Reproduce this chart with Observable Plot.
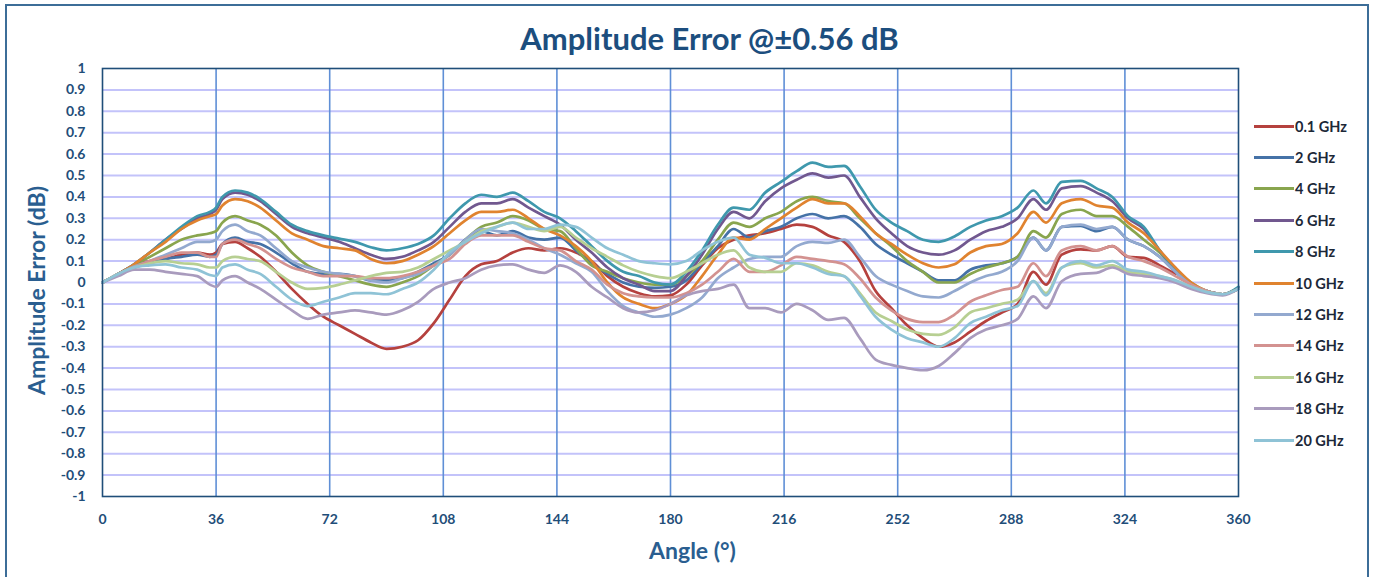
<!DOCTYPE html>
<html>
<head>
<meta charset="utf-8">
<script src="https://cdn.jsdelivr.net/npm/d3@7"></script>
<script src="https://cdn.jsdelivr.net/npm/@observablehq/plot@0.6"></script>
<style>
  html, body { margin: 0; padding: 0; background: #fff; overflow: hidden; }
  #wrap { position: relative; width: 1377px; height: 577px; }
  #border { position: absolute; left: 5px; top: 4px; width: 1364px; height: 600px; border: 2px solid #3c6d98; box-sizing: border-box; }
  #chart { position: absolute; left: 0; top: 0; }
  #chart svg text { font-family: Lato, "Open Sans", sans-serif; font-weight: bold; }
  #legend { position: absolute; left: 1254px; top: 0; font-family: Lato, sans-serif; font-weight: bold; font-size: 14.5px; color: #1c2838; }
  .item { position: absolute; left: 0; height: 16px; display: flex; align-items: center; white-space: nowrap; }
  .swatch { width: 40px; height: 3px; margin-right: 1px; }
</style>
</head>
<body>
<div id="wrap">
  <div id="border"></div>
  <div id="chart"></div>
  <div id="legend"></div>
</div>
<script>
const titleText = "Amplitude Error @\u00b10.56 dB";
const xTitle = "Angle (\u00b0)";
const yTitle = "Amplitude Error (dB)";
const xTicks = [0, 36, 72, 108, 144, 180, 216, 252, 288, 324, 360];
const yTicks = [-1, -0.9, -0.8, -0.7, -0.6, -0.5, -0.4, -0.3, -0.2, -0.1, 0, 0.1, 0.2, 0.3, 0.4, 0.5, 0.6, 0.7, 0.8, 0.9, 1];

const seriesNames = ["0.1 GHz", "2 GHz", "4 GHz", "6 GHz", "8 GHz", "10 GHz", "12 GHz", "14 GHz", "16 GHz", "18 GHz", "20 GHz"];
const seriesColors = ["#b5413e", "#4572a7", "#89a54e", "#71588f", "#3f98ad", "#e0832f", "#93a9cf", "#d39290", "#b7cf92", "#a99bbd", "#8fc3d6"];

const angles = [0,5,10,15,20,25,30, 34,36,38,42,46,
  50,55,60,65,70,75,80,85,90,95,100,105,110,
  115,120,125,130,135,140,145,150,155,160,165,170,175,180,185,190,195,200,205,210,215,
  220,225,230,235,240,245,250,255,260,265,270,275,280,285,290,295,
  299,304,
  310,315,320,325,330,335,340,345,350,355,360];

const ghz0_1 = [0,0.04,0.08,0.1,0.11,0.13,0.14, 0.13,0.14,0.18,0.19,0.16,
  0.12,0.05,-0.03,-0.1,-0.16,-0.2,-0.24,-0.28,-0.31,-0.3,-0.27,-0.19,-0.08,
  0.03,0.085,0.1,0.14,0.16,0.15,0.16,0.14,0.1,0.03,-0.02,-0.05,-0.065,-0.06,-0.01,0.08,0.16,0.2,0.22,0.23,0.25,
  0.27,0.26,0.22,0.19,0.1,-0.04,-0.12,-0.2,-0.26,-0.3,-0.28,-0.23,-0.18,-0.14,-0.1,0.05,
  -0.01,0.13,
  0.155,0.15,0.17,0.12,0.115,0.08,0.04,null,null,null,null];
const ghz2 = [0,0.04,0.07,0.09,0.11,0.12,0.13, 0.12,0.13,0.18,0.21,0.19,
  0.18,0.14,0.09,0.05,0.04,0.04,0.03,0.01,0.01,0.02,0.05,0.09,0.13,
  0.2,0.24,0.22,0.24,0.21,0.2,0.21,0.15,0.09,0.04,0.0,-0.02,-0.025,-0.02,0.01,0.09,0.17,0.25,0.21,0.24,0.26,
  0.3,0.32,0.3,0.31,0.26,0.18,0.13,0.09,0.05,0.01,0.01,0.06,0.08,0.09,0.12,0.21,
  0.15,0.26,
  0.265,0.24,0.26,0.2,0.17,0.12,0.05,-0.01,-0.04,-0.055,-0.03];
const ghz4 = [0,0.04,0.08,0.12,0.16,0.2,0.22, 0.23,0.24,0.28,0.31,0.29,
  0.27,0.22,0.14,0.08,0.05,0.03,0.01,-0.01,-0.02,0.0,0.03,0.08,0.13,
  0.2,0.26,0.28,0.31,0.29,0.25,0.24,0.16,0.08,0.05,0.02,0.0,-0.01,-0.01,0.03,0.1,0.2,0.28,0.26,0.3,0.33,
  0.38,0.4,0.38,0.37,0.3,0.23,0.17,0.1,0.05,0.0,0.0,0.04,0.07,0.09,0.12,0.24,
  0.21,0.32,
  0.34,0.31,0.31,0.26,0.2,0.14,0.06,0.0,-0.04,-0.055,-0.03];
const ghz6 = [0,0.04,0.085,0.14,0.2,0.25,0.3, 0.32,0.34,0.39,0.42,0.41,
  0.38,0.32,0.26,0.23,0.21,0.19,0.16,0.13,0.11,0.12,0.15,0.19,0.26,
  0.33,0.37,0.37,0.39,0.35,0.31,0.27,0.2,0.14,0.07,0.02,-0.01,-0.04,-0.04,0.03,0.13,0.25,0.33,0.3,0.38,0.44,
  0.48,0.51,0.49,0.5,0.4,0.3,0.23,0.17,0.14,0.13,0.15,0.2,0.24,0.26,0.3,0.39,
  0.34,0.44,
  0.45,0.42,0.38,0.3,0.25,0.15,0.06,-0.01,-0.04,-0.055,-0.025];
const ghz8 = [0,0.04,0.085,0.14,0.2,0.26,0.31, 0.33,0.35,0.4,0.43,0.42,
  0.39,0.33,0.27,0.24,0.22,0.205,0.19,0.165,0.15,0.16,0.18,0.22,0.3,
  0.37,0.41,0.4,0.42,0.38,0.33,0.3,0.24,0.17,0.1,0.05,0.03,0.0,-0.01,0.05,0.15,0.27,0.35,0.34,0.42,0.47,
  0.52,0.56,0.54,0.545,0.45,0.34,0.28,0.24,0.2,0.19,0.215,0.26,0.29,0.31,0.35,0.43,
  0.37,0.47,
  0.475,0.44,0.4,0.31,0.26,0.15,0.06,-0.01,-0.04,-0.055,-0.02];
const ghz10 = [0,0.04,0.085,0.14,0.19,0.25,0.29, 0.31,0.32,0.36,0.39,0.38,
  0.35,0.29,0.23,0.2,0.17,0.16,0.15,0.11,0.09,0.1,0.13,0.17,0.23,
  0.29,0.33,0.33,0.34,0.3,0.25,0.22,0.17,0.1,0.0,-0.07,-0.1,-0.12,-0.1,-0.06,0.03,0.13,0.21,0.2,0.25,0.3,
  0.35,0.39,0.37,0.37,0.31,0.23,0.18,0.13,0.09,0.07,0.085,0.14,0.17,0.18,0.23,0.33,
  0.28,0.37,
  0.39,0.36,0.35,0.28,0.23,0.15,0.07,0.0,-0.04,-0.055,-0.03];
const ghz12 = [0,0.04,0.075,0.1,0.13,0.16,0.19, 0.19,0.2,0.24,0.27,0.24,
  0.22,0.16,0.1,0.07,0.05,0.04,0.03,0.01,0.0,0.02,0.04,0.08,0.13,
  0.2,0.25,0.24,0.23,0.2,0.16,0.13,0.09,0.05,-0.04,-0.11,-0.14,-0.16,-0.15,-0.12,-0.07,0.02,0.07,0.11,0.12,0.12,
  0.17,0.19,0.185,0.2,0.12,0.03,-0.01,-0.04,-0.065,-0.07,-0.04,0.0,0.03,0.05,0.1,0.21,
  0.15,0.26,
  0.27,0.25,0.26,0.2,0.17,0.12,0.05,-0.01,-0.04,-0.055,-0.03];
const ghz14 = [0,0.04,0.07,0.1,0.12,0.14,0.14, 0.12,0.12,0.18,0.2,0.18,
  0.16,0.11,0.07,0.05,0.03,0.03,0.03,0.02,0.02,0.03,0.05,0.08,0.11,
  0.18,0.22,0.22,0.22,0.19,0.16,0.15,0.1,0.06,-0.01,-0.05,-0.065,-0.07,-0.07,-0.05,-0.01,0.05,0.11,0.05,0.05,0.08,
  0.12,0.11,0.1,0.085,0.02,-0.07,-0.13,-0.17,-0.185,-0.185,-0.15,-0.09,-0.06,-0.035,-0.02,0.09,
  0.03,0.15,
  0.17,0.15,0.17,0.12,0.1,0.07,0.03,-0.01,-0.04,-0.055,-0.03];
const ghz16 = [0,0.04,0.07,0.09,0.1,0.09,0.085, 0.07,0.07,0.1,0.12,0.11,
  0.1,0.05,0.0,-0.03,-0.025,-0.01,0.01,0.03,0.045,0.05,0.07,0.11,0.15,
  0.19,0.24,0.26,0.28,0.26,0.24,0.26,0.21,0.16,0.12,0.08,0.05,0.03,0.02,0.05,0.09,0.13,0.15,0.07,0.05,0.05,
  0.09,0.08,0.05,0.03,-0.05,-0.14,-0.18,-0.22,-0.24,-0.245,-0.21,-0.14,-0.12,-0.1,-0.08,0.006,
  -0.05,0.07,
  0.09,0.07,0.08,0.05,0.04,0.03,0.01,-0.02,-0.045,-0.055,-0.03];
const ghz18 = [0,0.03,0.06,0.06,0.05,0.04,0.03, -0.01,-0.02,0.01,0.03,0.0,
  -0.03,-0.08,-0.13,-0.17,-0.15,-0.14,-0.13,-0.14,-0.15,-0.13,-0.09,-0.03,0.0,
  0.02,0.06,0.08,0.085,0.06,0.045,0.08,0.05,-0.02,-0.07,-0.12,-0.14,-0.13,-0.1,-0.06,-0.04,-0.03,-0.01,-0.12,-0.12,-0.14,
  -0.1,-0.13,-0.175,-0.165,-0.26,-0.36,-0.385,-0.4,-0.41,-0.39,-0.33,-0.26,-0.22,-0.2,-0.17,-0.065,
  -0.12,0.006,
  0.04,0.045,0.07,0.04,0.03,0.02,0.0,-0.03,-0.05,-0.06,-0.03];
const ghz20 = [0,0.04,0.07,0.08,0.085,0.07,0.06, 0.035,0.03,0.07,0.085,0.06,
  0.04,-0.02,-0.08,-0.11,-0.09,-0.07,-0.05,-0.05,-0.055,-0.03,0.0,0.06,0.14,
  0.19,0.23,0.26,0.28,0.25,0.25,0.27,0.26,0.21,0.16,0.13,0.1,0.09,0.085,0.1,0.15,0.19,0.21,0.13,0.115,0.09,
  0.09,0.07,0.04,0.03,-0.06,-0.16,-0.22,-0.26,-0.28,-0.3,-0.26,-0.19,-0.16,-0.13,-0.11,0.006,
  -0.06,0.07,
  0.1,0.08,0.1,0.06,0.05,0.03,0.01,-0.02,-0.045,-0.055,-0.03];

const seriesValues = [ghz0_1, ghz2, ghz4, ghz6, ghz8, ghz10, ghz12, ghz14, ghz16, ghz18, ghz20];

const rows = seriesNames.flatMap((name, s) =>
  angles.map((a, i) => ({ name, angle: a, value: seriesValues[s][i] }))
).filter(d => d.value != null);

const axisColor = "#1f4e79";

const chart = Plot.plot({
  width: 1377,
  height: 577,
  marginLeft: 102,
  marginRight: 139,
  marginTop: 68,
  marginBottom: 81,
  style: { fontFamily: "Lato, sans-serif", fontSize: "14px", fontWeight: "bold", background: "transparent", color: axisColor, overflow: "visible" },
  x: { domain: [0, 360] },
  y: { domain: [-1, 1] },
  color: { domain: seriesNames, range: seriesColors },
  marks: [
    Plot.ruleY(yTicks.slice(1, -1), { stroke: "#c3c3fa", strokeWidth: 2 }),
    Plot.ruleX(xTicks.slice(1, -1), { stroke: "#5f8fd6", strokeWidth: 1.6 }),
    Plot.line(rows, { x: "angle", y: "value", z: "name", stroke: "name", strokeWidth: 2.7, curve: "monotone-x", strokeLinejoin: "round" }),
    Plot.frame({ stroke: "#1f4e79", strokeWidth: 1.6 }),
    Plot.axisX(xTicks, { tickSize: 0, tickPadding: 18, fill: axisColor, fontWeight: "bold", fontSize: 14, label: null }),
    Plot.axisY(yTicks, { tickSize: 0, tickPadding: 17, fill: axisColor, fontWeight: "bold", fontSize: 14, label: null, tickFormat: d => String(d) }),
    Plot.text([titleText], { text: d => d, frameAnchor: "top", lineAnchor: "middle", textAnchor: "middle", dx: 39, dy: -28, fontSize: 31, fontWeight: "bold", fill: "#1c4e7e" }),
    Plot.text([xTitle], { text: d => d, frameAnchor: "bottom", lineAnchor: "middle", textAnchor: "middle", dx: 22, dy: 55, fontSize: 23, fontWeight: "bold", fill: "#2a5e90" }),
    Plot.text([yTitle], { text: d => d, frameAnchor: "left", lineAnchor: "middle", textAnchor: "middle", rotate: -90, dx: -65, dy: 8, fontSize: 23, fontWeight: "bold", fill: "#2a5e90" })
  ]
});
document.getElementById("chart").appendChild(chart);

const legend = document.getElementById("legend");
seriesNames.forEach((name, i) => {
  const item = document.createElement("div");
  item.className = "item";
  item.style.top = (126 + i * 31.4 - 8) + "px";
  const sw = document.createElement("span");
  sw.className = "swatch";
  sw.style.background = seriesColors[i];
  const label = document.createElement("span");
  label.textContent = name;
  item.appendChild(sw);
  item.appendChild(label);
  legend.appendChild(item);
});
</script>
</body>
</html>
